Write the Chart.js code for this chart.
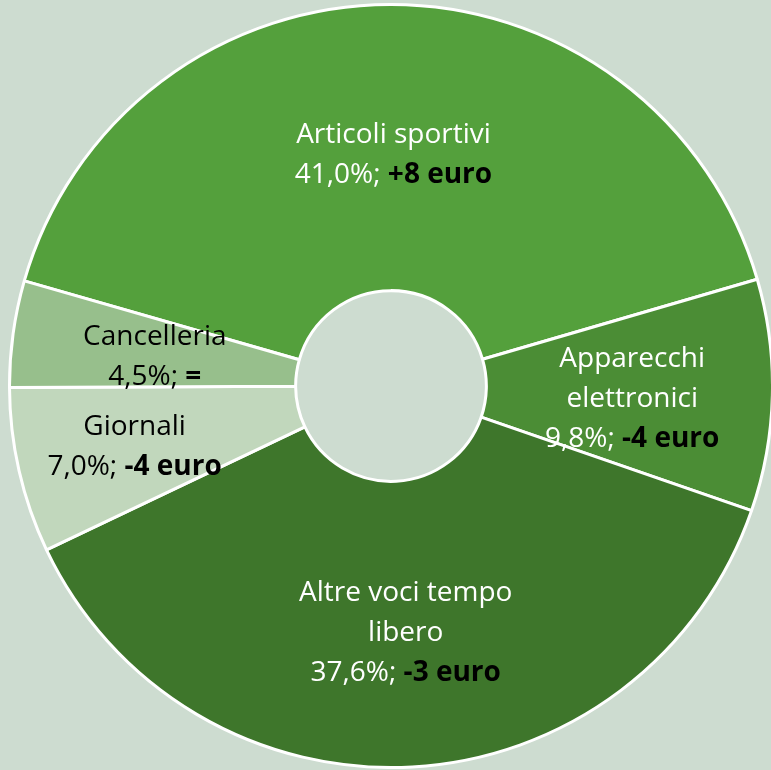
<!DOCTYPE html>
<html>
<head>
<meta charset="utf-8">
<script src="https://cdn.jsdelivr.net/npm/chart.js@4.4.0/dist/chart.umd.min.js"></script>
<style>
  html, body { margin: 0; padding: 0; width: 771px; height: 770px; overflow: hidden; background: #cddcd0; }
  #wrap { position: absolute; left: 8px; top: 3px; width: 766px; height: 766px; }
</style>
</head>
<body>
<div id="wrap"><canvas id="spesa-chart" width="766" height="766"></canvas></div>
<script>
const categories = [
  ["Articoli sportivi"],
  ["Apparecchi", "elettronici"],
  ["Altre voci tempo", "libero"],
  ["Giornali"],
  ["Cancelleria"],
];
const shares = [41.0, 9.8, 37.6, 7.0, 4.5];
const changes = ["+8 euro", "-4 euro", "-3 euro", "-4 euro", "="];

const sliceColors = ["#54a03c", "#4b8d35", "#3e762b", "#c1d7bc", "#97bf8c"];
const textColors = ["#ffffff", "#ffffff", "#ffffff", "#000000", "#000000"];
const labelRadius = [0.475, 0.51, 0.53, 0.6, 0.5]; // share of the ring where each label sits
const labelNudge = [[3, 0], [0, 7], [1, 0], [4, 2], [0, 4]];

const fontFamily = "'Open Sans', Lato, sans-serif";
const fontSize = 28;
const lineHeight = 40;

const fmtShare = (v) => v.toFixed(1).replace(".", ",") + "%; ";

const sliceLabels = {
  id: "sliceLabels",
  afterDatasetsDraw(chart) {
    const ctx = chart.ctx;
    const meta = chart.getDatasetMeta(0);
    ctx.save();
    ctx.textBaseline = "middle";
    meta.data.forEach((arc, i) => {
      const { x, y, startAngle, endAngle, innerRadius, outerRadius } = arc.getProps(
        ["x", "y", "startAngle", "endAngle", "innerRadius", "outerRadius"], true);
      const mid = (startAngle + endAngle) / 2;
      const r = innerRadius + (outerRadius - innerRadius) * labelRadius[i];
      const cx = x + Math.cos(mid) * r + labelNudge[i][0];
      const cy = y + Math.sin(mid) * r + labelNudge[i][1];

      const lines = categories[i].map((t) => [{ text: t, bold: false, color: textColors[i] }]);
      lines.push([
        { text: fmtShare(shares[i]), bold: false, color: textColors[i] },
        { text: changes[i], bold: true, color: "#000000" },
      ]);

      const top = cy - ((lines.length - 1) * lineHeight) / 2;
      lines.forEach((parts, li) => {
        const widths = parts.map((p) => {
          ctx.font = (p.bold ? "bold " : "") + fontSize + "px " + fontFamily;
          return ctx.measureText(p.text).width;
        });
        const total = widths.reduce((a, b) => a + b, 0);
        let px = cx - total / 2;
        parts.forEach((p, k) => {
          ctx.font = (p.bold ? "bold " : "") + fontSize + "px " + fontFamily;
          ctx.fillStyle = p.color;
          ctx.textAlign = "left";
          ctx.fillText(p.text, px, top + li * lineHeight);
          px += widths[k];
        });
      });
    });
    ctx.restore();
  },
};

const canvas = document.getElementById("spesa-chart");
new Chart(canvas.getContext("2d"), {
  type: "doughnut",
  data: {
    labels: categories.map((c) => c.join(" ")),
    datasets: [
      {
        data: shares,
        backgroundColor: sliceColors,
        borderColor: "#ffffff",
        borderWidth: 3,
      },
    ],
  },
  options: {
    responsive: false,
    animation: false,
    rotation: -74,
    cutout: "25%",
    layout: { padding: 0 },
    plugins: {
      legend: { display: false },
      tooltip: { enabled: false },
    },
  },
  plugins: [sliceLabels],
});
</script>
</body>
</html>
